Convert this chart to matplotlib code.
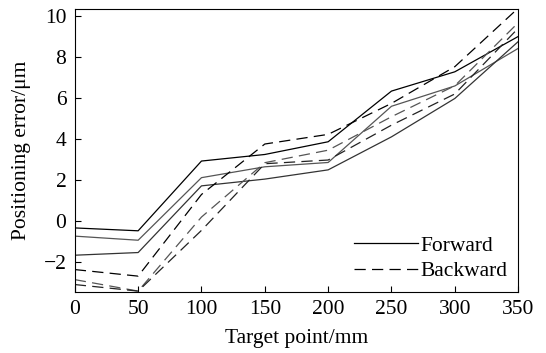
import matplotlib
matplotlib.use("Agg")
import matplotlib.pyplot as plt

# target points (mm)
target = [0, 50, 100, 150, 200, 250, 300, 350]

# forward runs (solid)
fwd_1 = [-0.33, -0.47, 2.93, 3.25, 3.87, 6.34, 7.28, 9.00]
fwd_2 = [-0.73, -0.93, 2.12, 2.65, 2.86, 5.60, 6.59, 8.42]
fwd_3 = [-1.66, -1.53, 1.72, 2.05, 2.50, 4.11, 5.98, 8.75]

# backward runs (dashed)
bwd_1 = [-2.36, -2.68, 1.30, 3.76, 4.23, 5.74, 7.53, 10.38]
bwd_2 = [-2.85, -3.41, 0.20, 2.85, 3.46, 5.09, 6.60, 9.67]
bwd_3 = [-3.09, -3.41, -0.45, 2.80, 2.98, 4.68, 6.20, 9.40]

xticks = [0, 50, 100, 150, 200, 250, 300, 350]
yticks = [-2, 0, 2, 4, 6, 8, 10]

plt.rcParams["font.family"] = ["Liberation Serif", "DejaVu Serif"]
plt.rcParams["font.size"] = 15.5

fig = plt.figure(figsize=(5.46, 3.53), dpi=100)
ax = fig.add_axes([0.137, 0.173, 0.812, 0.802])

fwd_cols = ["black", "#555555", "#333333"]
bwd_cols = ["black", "#555555", "#222222"]
for y, c in zip([fwd_1, fwd_2, fwd_3], fwd_cols):
    ax.plot(target, y, color=c, lw=0.9)
for y, c in zip([bwd_1, bwd_2, bwd_3], bwd_cols):
    ax.plot(target, y, color=c, lw=0.9, dashes=(9, 5))

# legend proxies
ax.plot([], [], color="black", lw=0.9, label="Forward")
ax.plot([], [], color="black", lw=0.9, dashes=(9, 5), label="Backward")
h, l = ax.get_legend_handles_labels()
ax.legend(h, l, loc="lower right", frameon=False, handlelength=3.0,
          handletextpad=0.1, labelspacing=0.25, borderaxespad=0.1)

ax.set_xlim(0, 350)
ax.set_ylim(-3.45, 10.35)
ax.set_xticks(xticks)
ax.set_yticks(yticks)
ax.tick_params(direction="in", length=4, width=0.8, top=False, right=False, pad=6)
for s in ax.spines.values():
    s.set_linewidth(0.8)

ax.set_xlabel("Target point/mm", labelpad=7)
ax.set_ylabel("Positioning error/μm", labelpad=9)

fig.savefig("out.png", dpi=100)
